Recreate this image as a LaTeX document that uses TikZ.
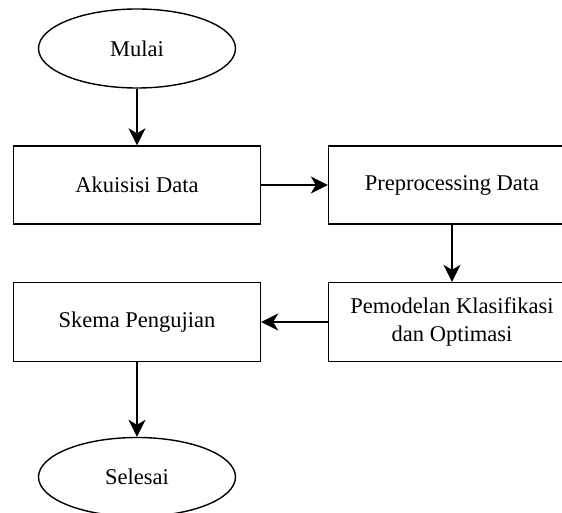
\documentclass[tikz,border=0pt]{standalone}
\usepackage{fontspec}
\setmainfont{Liberation Serif}
\usepackage{tikz}
\usetikzlibrary{arrows.meta,shapes.geometric,positioning}
\tikzstyle{block} =
  [rectangle, draw, line width=1.4pt, align=center,
   minimum width=247pt, text centered, minimum height=78pt]
\tikzstyle{cloud} =
  [draw, text centered, ellipse, line width=1.4pt,
   minimum height=79pt, minimum width=197pt]
\tikzstyle{arrow}=[draw,-{Stealth[length=17pt,width=17pt,inset=5pt]},line width=1.4pt]

\begin{document}
\begin{tikzpicture}[node distance = 137pt,
    font=\fontsize{22.5}{28}\selectfont]
  \useasboundingbox (0,0) rectangle (562pt,-513pt);

  \node [cloud] at (137pt,-48.5pt) (mulai) {Mulai};
  \node [block, below of=mulai, node distance=136.5pt] (akuisisi) {Akuisisi Data};
  \node [block, right of=akuisisi, node distance=315pt] (prepro) {Preprocessing Data};
  \node [block, below of=prepro, minimum height=79pt] (model)
    {Pemodelan Klasifikasi\\dan Optimasi};
  \node [block, left of=model, node distance=315pt, minimum height=79pt] (skema)
    {Skema Pengujian};
  \node [cloud, below of=skema, node distance=155pt] (selesai) {Selesai};

  \draw [arrow] (mulai) to (akuisisi);
  \draw [arrow] (akuisisi) to (prepro);
  \draw [arrow] (prepro) to (model);
  \draw [arrow] (model) to (skema);
  \draw [arrow] (skema) to (selesai);

\end{tikzpicture}
\end{document}
